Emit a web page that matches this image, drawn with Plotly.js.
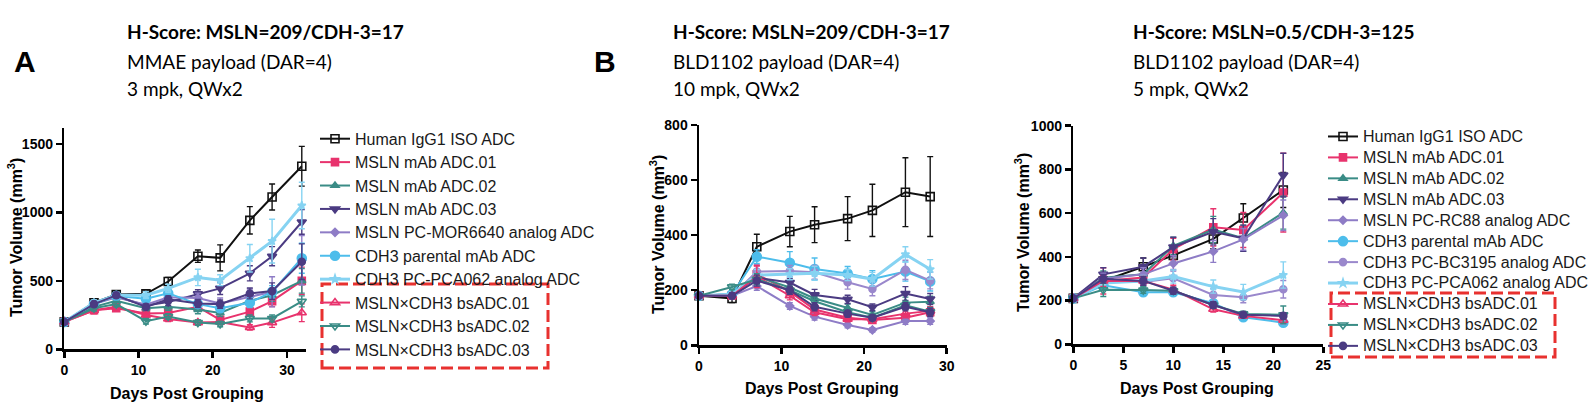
<!DOCTYPE html>
<html>
<head>
<meta charset="utf-8">
<script src="https://cdn.plot.ly/plotly-3.0.1.min.js"></script>
<style>
  html, body { margin: 0; padding: 0; background: #fff; }
  #chart { width: 1595px; height: 410px; }
</style>
</head>
<body>
<div id="chart"></div>
<script>
// ---------------- data ----------------
// Panel A: MMAE payload, 3 mpk
const daysA = [0, 4, 7, 11, 14, 18, 21, 25, 28, 32];
const namesA = [
  "Human IgG1 ISO ADC", "MSLN mAb ADC.01", "MSLN mAb ADC.02", "MSLN mAb ADC.03",
  "MSLN PC-MOR6640 analog ADC", "CDH3 parental mAb ADC", "CDH3 PC-PCA062 analog ADC",
  "MSLN×CDH3 bsADC.01", "MSLN×CDH3 bsADC.02", "MSLN×CDH3 bsADC.03"
];
const isoA      = [200, 340, 400, 405, 495, 680, 668, 942, 1112, 1337];
const isoA_err  = [10, 25, 25, 20, 30, 45, 95, 100, 95, 145];
const adc01A     = [200, 285, 300, 262, 265, 310, 215, 275, 352, 500];
const adc01A_err = [8, 25, 20, 20, 25, 30, 25, 30, 40, 100];
const adc02A     = [200, 310, 355, 300, 310, 290, 265, 355, 395, 500];
const adc02A_err = [8, 20, 20, 20, 25, 30, 25, 40, 45, 90];
const adc03A     = [200, 335, 385, 320, 345, 405, 445, 555, 680, 930];
const adc03A_err = [8, 20, 20, 20, 25, 30, 45, 55, 70, 90];
const morA       = [200, 330, 380, 325, 380, 375, 335, 385, 420, 650];
const morA_err   = [8, 20, 20, 20, 30, 35, 40, 55, 110, 180];
const parA       = [200, 330, 390, 370, 410, 330, 300, 340, 420, 665];
const parA_err   = [8, 20, 20, 25, 30, 30, 30, 35, 45, 110];
const pcaA       = [200, 340, 395, 395, 445, 525, 505, 665, 790, 1050];
const pcaA_err   = [8, 20, 20, 25, 30, 60, 40, 100, 160, 170];
const bs01A      = [200, 285, 310, 250, 222, 195, 200, 160, 195, 267];
const bs01A_err  = [8, 20, 20, 20, 20, 20, 20, 20, 35, 65];
const bs02A      = [200, 300, 330, 205, 240, 195, 185, 225, 225, 350];
const bs02A_err  = [8, 20, 20, 20, 20, 20, 20, 25, 25, 40];
const bs03A      = [200, 330, 395, 310, 365, 335, 330, 408, 425, 640];
const bs03A_err  = [8, 20, 20, 20, 25, 30, 30, 40, 60, 130];

// Panels B and C: BLD1102 payload
const namesBC = [
  "Human IgG1 ISO ADC", "MSLN mAb ADC.01", "MSLN mAb ADC.02", "MSLN mAb ADC.03",
  "MSLN PC-RC88 analog ADC", "CDH3 parental mAb ADC", "CDH3 PC-BC3195 analog ADC",
  "CDH3 PC-PCA062 analog ADC", "MSLN×CDH3 bsADC.01", "MSLN×CDH3 bsADC.02", "MSLN×CDH3 bsADC.03"
];

// Panel B: 10 mpk
const daysB = [0, 4, 7, 11, 14, 18, 21, 25, 28];
const isoB      = [180, 170, 358, 413, 438, 460, 490, 556, 540];
const isoB_err  = [5, 15, 45, 55, 65, 80, 95, 125, 145];
const adc01B     = [180, 180, 258, 195, 130, 100, 92, 100, 120];
const adc01B_err = [5, 10, 30, 15, 12, 10, 10, 15, 15];
const adc02B     = [180, 185, 250, 210, 170, 135, 110, 155, 158];
const adc02B_err = [5, 10, 20, 15, 15, 15, 12, 20, 20];
const adc03B     = [180, 185, 245, 228, 183, 167, 138, 188, 168];
const adc03B_err = [5, 10, 20, 15, 20, 15, 12, 25, 20];
const rcB        = [180, 180, 215, 143, 104, 74, 56, 88, 88];
const rcB_err    = [5, 10, 15, 12, 12, 10, 8, 12, 12];
const parB       = [180, 185, 322, 300, 277, 261, 241, 268, 232];
const parB_err   = [5, 10, 25, 40, 40, 25, 30, 35, 35];
const bcB        = [180, 180, 268, 270, 265, 229, 205, 274, 235];
const bcB_err    = [5, 10, 25, 20, 25, 25, 25, 35, 30];
const pcaB       = [180, 185, 255, 258, 262, 255, 240, 330, 276];
const pcaB_err   = [5, 10, 20, 20, 25, 20, 25, 28, 35];
const bs01B      = [180, 180, 250, 180, 120, 95, 95, 115, 125];
const bs01B_err  = [5, 10, 40, 15, 12, 10, 10, 15, 15];
const bs02B      = [180, 212, 240, 200, 160, 120, 100, 145, 122];
const bs02B_err  = [5, 10, 20, 15, 15, 12, 10, 15, 15];
const bs03B      = [180, 180, 235, 200, 140, 115, 100, 140, 120];
const bs03B_err  = [5, 10, 20, 15, 15, 12, 10, 15, 15];

// Panel C: 5 mpk
const daysC = [0, 3, 7, 10, 14, 17, 21];
const isoC      = [210, 290, 355, 407, 482, 578, 706];
const isoC_err  = [5, 20, 40, 35, 45, 65, 80];
const adc01C     = [210, 290, 306, 435, 535, 523, 694];
const adc01C_err = [5, 60, 40, 50, 85, 80, 180];
const adc02C     = [210, 305, 320, 450, 525, 485, 602];
const adc02C_err = [5, 30, 30, 40, 60, 60, 75];
const adc03C     = [210, 320, 355, 445, 515, 485, 774];
const adc03C_err = [5, 30, 40, 45, 60, 60, 100];
const rcC        = [210, 300, 320, 370, 425, 480, 590];
const rcC_err    = [5, 25, 30, 35, 50, 50, 70];
const parC       = [210, 270, 238, 238, 188, 124, 99];
const parC_err   = [5, 20, 15, 15, 15, 12, 15];
const bcC        = [210, 290, 285, 302, 226, 215, 252];
const bcC_err    = [5, 25, 25, 40, 30, 25, 40];
const pcaC       = [210, 280, 290, 310, 264, 239, 317];
const pcaC_err   = [5, 20, 25, 30, 30, 35, 60];
const bs01C      = [210, 290, 290, 250, 160, 130, 110];
const bs01C_err  = [5, 25, 20, 20, 12, 10, 15];
const bs02C      = [210, 249, 248, 245, 180, 139, 135];
const bs02C_err  = [5, 30, 15, 15, 15, 12, 40];
const bs03C      = [210, 300, 290, 245, 180, 135, 130];
const bs03C_err  = [5, 20, 20, 15, 15, 12, 15];

// ---------------- styling ----------------
const PINK = '#E8336D', TEAL = '#3A8C86', DPURP = '#4B3B82', LAV = '#8E7CC6',
      SKY = '#4DBDEB', LBLUE = '#86D3F2', LILAC = '#9A88CC';
const look = {
  iso:   {color: '#111111', symbol: 'square-open', size: 8},
  adc01: {color: PINK, symbol: 'square', size: 7},
  adc02: {color: TEAL, symbol: 'triangle-up', size: 7},
  adc03: {color: DPURP, symbol: 'triangle-down', size: 8},
  mslnPc:{color: LAV, symbol: 'diamond', size: 6},
  par:   {color: SKY, symbol: 'circle', size: 9},
  bc:    {color: LILAC, symbol: 'circle', size: 7},
  pca:   {color: LBLUE, symbol: 'star', size: 6, width: 3},
  bs01:  {color: PINK, symbol: 'triangle-up-open', size: 8},
  bs02:  {color: TEAL, symbol: 'triangle-down-open', size: 8},
  bs03:  {color: DPURP, symbol: 'circle', size: 7}
};

const W = 1595, H = 410;
const px = v => v / W;          // page x pixel -> paper
const py = v => 1 - v / H;      // page y pixel -> paper

function series(key, name, x, y, err, ax, legendId, show) {
  const s = look[key];
  return {
    type: 'scatter', mode: 'lines+markers',
    x: x, y: y, name: '<span style="font-size:16px">' + name + '</span>',
    xaxis: ax[0], yaxis: ax[1],
    legend: legendId, showlegend: show, cliponaxis: false,
    line: {color: s.color, width: s.width || 2},
    marker: {color: s.color, symbol: s.symbol, size: s.size,
             line: {color: s.color, width: 1.6}},
    error_y: {type: 'data', array: err, visible: true, color: s.color, thickness: 1.4, width: 3}
  };
}

const keysA = ['iso', 'adc01', 'adc02', 'adc03', 'mslnPc', 'par', 'pca', 'bs01', 'bs02', 'bs03'];
const valsA = [isoA, adc01A, adc02A, adc03A, morA, parA, pcaA, bs01A, bs02A, bs03A];
const errsA = [isoA_err, adc01A_err, adc02A_err, adc03A_err, morA_err, parA_err, pcaA_err, bs01A_err, bs02A_err, bs03A_err];

const keysBC = ['iso', 'adc01', 'adc02', 'adc03', 'mslnPc', 'par', 'bc', 'pca', 'bs01', 'bs02', 'bs03'];
const valsB = [isoB, adc01B, adc02B, adc03B, rcB, parB, bcB, pcaB, bs01B, bs02B, bs03B];
const errsB = [isoB_err, adc01B_err, adc02B_err, adc03B_err, rcB_err, parB_err, bcB_err, pcaB_err, bs01B_err, bs02B_err, bs03B_err];
const valsC = [isoC, adc01C, adc02C, adc03C, rcC, parC, bcC, pcaC, bs01C, bs02C, bs03C];
const errsC = [isoC_err, adc01C_err, adc02C_err, adc03C_err, rcC_err, parC_err, bcC_err, pcaC_err, bs01C_err, bs02C_err, bs03C_err];

const traces = [];
keysA.forEach((k, i) => traces.push(series(k, namesA[i], daysA, valsA[i], errsA[i], ['x', 'y'], 'legend', true)));
keysBC.forEach((k, i) => traces.push(series(k, namesBC[i], daysB, valsB[i], errsB[i], ['x2', 'y2'], 'legend', false)));
keysBC.forEach((k, i) => traces.push(series(k, namesBC[i], daysC, valsC[i], errsC[i], ['x3', 'y3'], 'legend2', true)));

// ---------------- axes ----------------
const tickFont = {family: 'Liberation Sans, Arial, sans-serif', size: 14, color: '#000', weight: 'bold'};
function axis(extra) {
  return Object.assign({
    showline: true, linecolor: '#000', linewidth: 2.5,
    ticks: 'outside', ticklen: 6, tickwidth: 2.5, tickcolor: '#000',
    tickfont: tickFont, showgrid: false, zeroline: false, fixedrange: true
  }, extra);
}

const axisTitleFont = {family: 'Liberation Sans, Arial, sans-serif', size: 16, color: '#000', weight: 'bold'};
const headFont = {family: 'Lato, sans-serif', size: 19, color: '#000'};
const letterFont = {family: 'Liberation Sans, Arial', size: 30, color: '#000', weight: 'bold'};

function note(text, x, y, opts) {
  return Object.assign({
    text: text, xref: 'paper', yref: 'paper', x: px(x), y: py(y),
    xanchor: 'left', yanchor: 'middle', showarrow: false
  }, opts || {});
}
const bold = f => Object.assign({}, f, {weight: 'bold'});

const annotations = [
  // panel letters
  note('A', 12, 61, {font: letterFont}),
  note('B', 592, 61, {font: letterFont}),
  // panel headings
  note('H-Score: MSLN=209/CDH-3=17', 125, 32, {font: bold(headFont)}),
  note('MMAE payload (DAR=4)', 125, 61, {font: headFont}),
  note('3 mpk, QWx2', 125, 89, {font: headFont}),
  note('H-Score: MSLN=209/CDH-3=17', 671, 32, {font: bold(headFont)}),
  note('BLD1102 payload (DAR=4)', 671, 61, {font: headFont}),
  note('10 mpk, QWx2', 671, 89, {font: headFont}),
  note('H-Score: MSLN=0.5/CDH-3=125', 1131, 32, {font: bold(headFont)}),
  note('BLD1102 payload (DAR=4)', 1131, 61, {font: headFont}),
  note('5 mpk, QWx2', 1131, 89, {font: headFont}),
  // axis titles
  note('Tumor Volume (mm<sup>3</sup>)', 15, 238, {xanchor: 'center', textangle: -90, font: axisTitleFont}),
  note('Tumor Volume (mm<sup>3</sup>)', 657, 235, {xanchor: 'center', textangle: -90, font: axisTitleFont}),
  note('Tumor Volume (mm<sup>3</sup>)', 1022, 233, {xanchor: 'center', textangle: -90, font: axisTitleFont}),
  note('Days Post Grouping', 187, 393, {xanchor: 'center', font: axisTitleFont}),
  note('Days Post Grouping', 822, 388, {xanchor: 'center', font: axisTitleFont}),
  note('Days Post Grouping', 1197, 388, {xanchor: 'center', font: axisTitleFont})
];

// dashed frames around the bispecific entries
const frame = {color: '#E8312F', width: 3, dash: '12px,5px'};
const shapes = [
  {type: 'rect', xref: 'paper', yref: 'paper', x0: px(322), x1: px(548), y0: py(368), y1: py(284), line: frame},
  {type: 'rect', xref: 'paper', yref: 'paper', x0: px(1331), x1: px(1555), y0: py(357), y1: py(293), line: frame}
];

const legendFont = {family: 'Liberation Sans, Arial, sans-serif', size: 15.7, color: '#1a1a1a'};

const layout = {
  width: W, height: H,
  margin: {l: 0, r: 0, t: 0, b: 0, autoexpand: false},
  paper_bgcolor: '#fff', plot_bgcolor: '#fff',
  xaxis:  axis({domain: [px(64.3), px(305.5)], range: [0, 32.5], dtick: 10, anchor: 'y'}),
  yaxis:  axis({domain: [py(349.3), py(127.5)], range: [0, 1620], dtick: 500, anchor: 'x'}),
  xaxis2: axis({domain: [px(699), px(946.7)], range: [0, 30], dtick: 10, anchor: 'y2'}),
  yaxis2: axis({domain: [py(345.3), py(125)], range: [0, 800], dtick: 200, anchor: 'x2'}),
  xaxis3: axis({domain: [px(1073.3), px(1323.3)], range: [0, 25], dtick: 5, anchor: 'y3'}),
  yaxis3: axis({domain: [py(344.3), py(125.7)], range: [0, 1000], dtick: 200, anchor: 'x3'}),
  legend:  {x: px(315), y: py(122), xanchor: 'left', yanchor: 'top', font: legendFont,
            bgcolor: 'rgba(0,0,0,0)', borderwidth: 0},
  legend2: {x: px(1323), y: py(121), xanchor: 'left', yanchor: 'top',
            font: Object.assign({}, legendFont, {size: 13.8}),
            bgcolor: 'rgba(0,0,0,0)', borderwidth: 0},
  annotations: annotations,
  shapes: shapes,
  showlegend: true
};

Plotly.newPlot('chart', traces, layout, {staticPlot: true, displayModeBar: false});
</script>
</body>
</html>
